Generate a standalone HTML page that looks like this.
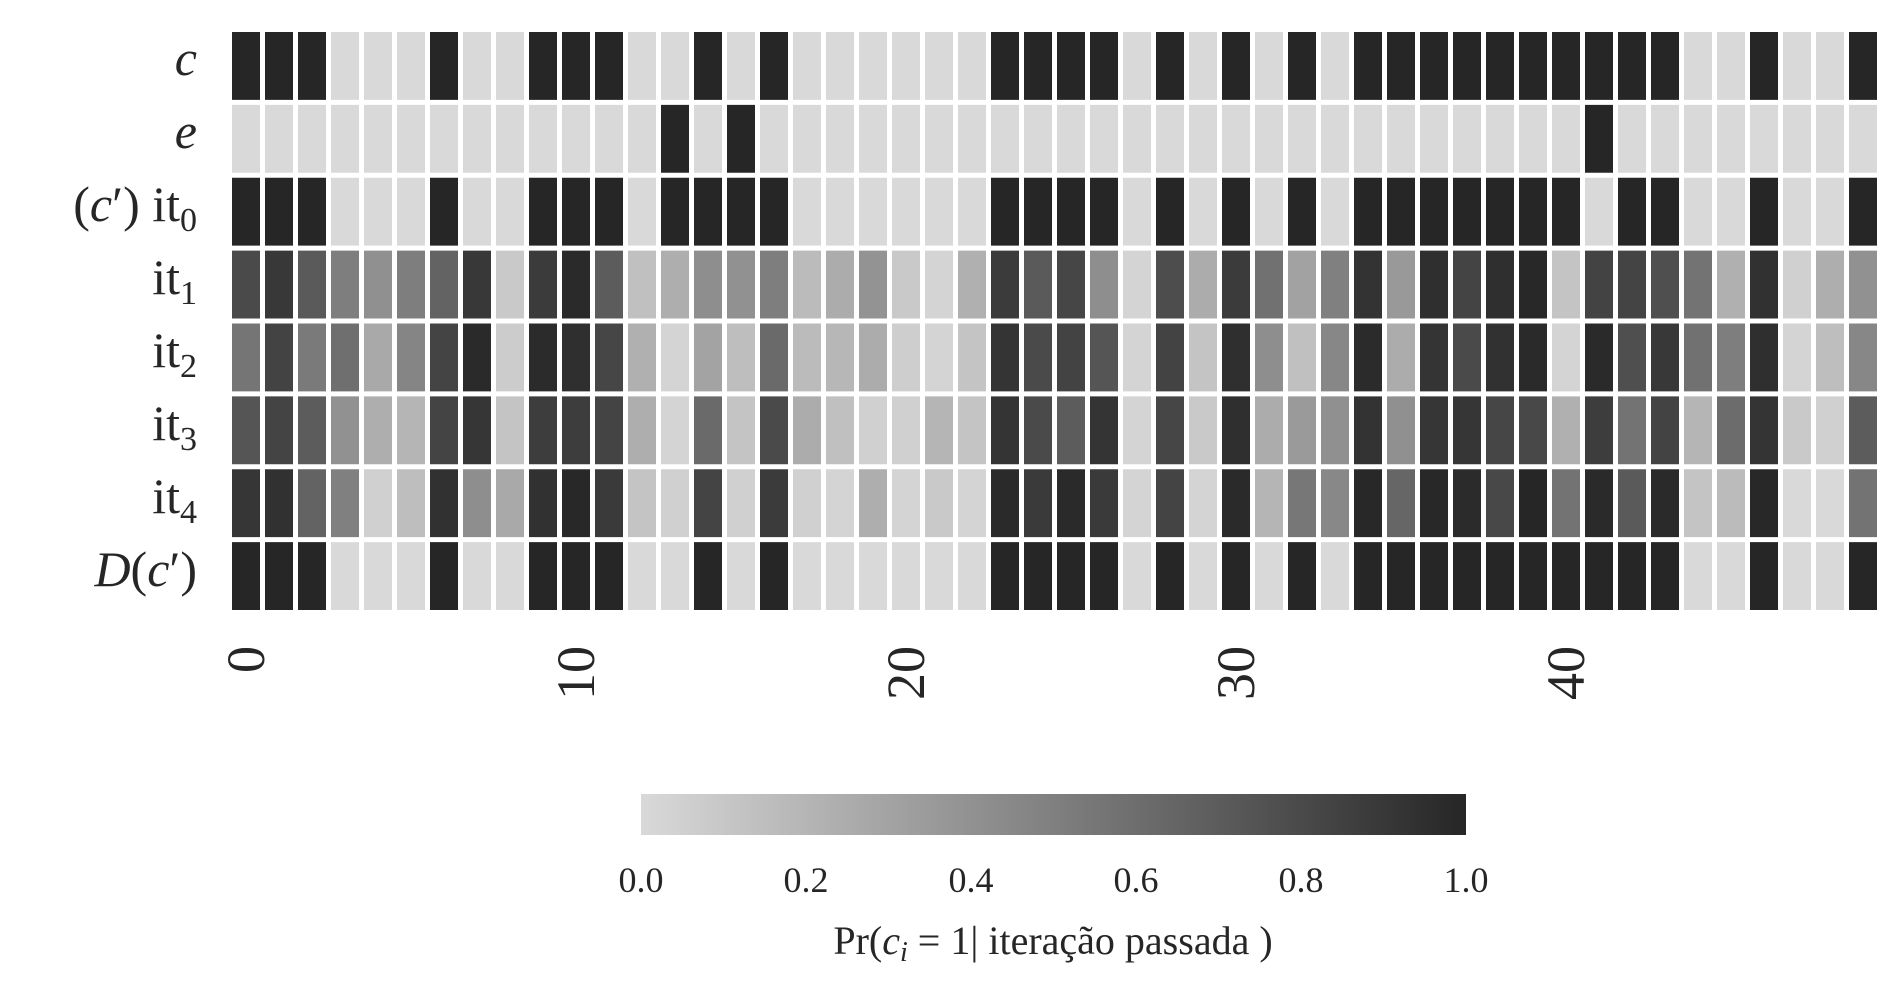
<!DOCTYPE html>
<html><head><meta charset="utf-8"><style>
html,body{margin:0;padding:0;background:#fff;}
svg{display:block;font-family:"Liberation Serif",serif;}
</style></head><body>
<svg id="chart" width="1902" height="996" viewBox="0 0 1902 996" xmlns="http://www.w3.org/2000/svg">
<defs><linearGradient id="cbgrad" x1="0" x2="1" y1="0" y2="0"><stop offset="0" stop-color="#d9d9d9"/><stop offset="1" stop-color="#262626"/></linearGradient></defs>
<g id="cells"></g>
<g id="ylabels" font-size="50" fill="#262626" text-anchor="end">
<text x="197" y="75" font-style="italic">c</text>
<text x="197" y="148" font-style="italic">e</text>
<text x="197" y="221">(<tspan font-style="italic">c</tspan>′) it<tspan font-size="34" dy="10">0</tspan></text>
<text x="197" y="294">it<tspan font-size="34" dy="10">1</tspan></text>
<text x="197" y="367">it<tspan font-size="34" dy="10">2</tspan></text>
<text x="197" y="440">it<tspan font-size="34" dy="10">3</tspan></text>
<text x="197" y="513">it<tspan font-size="34" dy="10">4</tspan></text>
<text x="197" y="586"><tspan font-style="italic">D</tspan>(<tspan font-style="italic">c</tspan>′)</text>
</g>
<g id="xticks"></g>
<rect x="641" y="794" width="825" height="41" fill="url(#cbgrad)"/>
<g id="cbticks"></g>
<text x="1053" y="954" font-size="40" text-anchor="middle" fill="#262626">Pr(<tspan font-style="italic">c<tspan font-size="28" dy="7">i</tspan></tspan><tspan dy="-7"> = 1| iteração passada )</tspan></text>
</svg>
<script>
const rowLabels = ["c","e","it0","it1","it2","it3","it4","D(c')"];
const rowC  = [1,1,1,0,0,0,1,0,0,1,1,1,0,0,1,0,1,0,0,0,0,0,0,1,1,1,1,0,1,0,1,0,1,0,1,1,1,1,1,1,1,1,1,1,0,0,1,0,0,1];
const rowE  = [0,0,0,0,0,0,0,0,0,0,0,0,0,1,0,1,0,0,0,0,0,0,0,0,0,0,0,0,0,0,0,0,0,0,0,0,0,0,0,0,0,1,0,0,0,0,0,0,0,0];
const rowIt0= [1,1,1,0,0,0,1,0,0,1,1,1,0,1,1,1,1,0,0,0,0,0,0,1,1,1,1,0,1,0,1,0,1,0,1,1,1,1,1,1,1,0,1,1,0,0,1,0,0,1];
const rowIt1= [0.8,0.9,0.71,0.51,0.41,0.51,0.66,0.9,0.09,0.88,0.98,0.7,0.14,0.24,0.42,0.4,0.51,0.17,0.25,0.39,0.09,0.03,0.23,0.88,0.71,0.82,0.42,0.03,0.78,0.25,0.88,0.58,0.31,0.5,0.93,0.36,0.95,0.83,0.95,0.99,0.12,0.84,0.83,0.77,0.57,0.23,0.94,0.05,0.24,0.4];
const rowIt2= [0.56,0.84,0.53,0.59,0.27,0.47,0.83,0.98,0.07,0.97,0.95,0.82,0.23,0.03,0.3,0.15,0.62,0.17,0.19,0.25,0.06,0.03,0.12,0.92,0.8,0.84,0.74,0.03,0.84,0.12,0.95,0.42,0.14,0.46,0.97,0.25,0.92,0.8,0.94,0.98,0.03,0.98,0.77,0.9,0.58,0.51,0.95,0.03,0.15,0.46];
const rowIt3= [0.74,0.83,0.7,0.4,0.24,0.2,0.83,0.91,0.12,0.87,0.87,0.83,0.24,0.03,0.62,0.12,0.8,0.25,0.14,0.05,0.05,0.2,0.12,0.92,0.8,0.7,0.92,0.03,0.82,0.09,0.95,0.25,0.35,0.41,0.93,0.41,0.91,0.91,0.82,0.81,0.23,0.87,0.57,0.84,0.2,0.61,0.92,0.09,0.05,0.7];
const rowIt4= [0.91,0.94,0.66,0.5,0.05,0.15,0.94,0.42,0.27,0.94,0.99,0.89,0.12,0.05,0.83,0.05,0.88,0.05,0.03,0.24,0.03,0.09,0.03,0.98,0.89,0.98,0.89,0.03,0.83,0.03,0.98,0.2,0.55,0.45,0.99,0.64,0.99,0.97,0.81,1,0.57,0.98,0.71,0.98,0.12,0.17,0.99,0,0,0.57];
const rowD  = [1,1,1,0,0,0,1,0,0,1,1,1,0,0,1,0,1,0,0,0,0,0,0,1,1,1,1,0,1,0,1,0,1,0,1,1,1,1,1,1,1,1,1,1,0,0,1,0,0,1];
const xTickLabels = ["0","10","20","30","40"];
const cbTickLabels = ["0.0","0.2","0.4","0.6","0.8","1.0"];

const NS = "http://www.w3.org/2000/svg";
const rows = [rowC,rowE,rowIt0,rowIt1,rowIt2,rowIt3,rowIt4,rowD];
const X0 = 229.5, X1 = 1879.5, Y0 = 29.5, Y1 = 612.5, GAP = 5;
const nCols = rowC.length, nRows = rows.length;
const dx = (X1 - X0) / nCols, dy = (Y1 - Y0) / nRows;
function xScale(i){ return X0 + i * dx; }
function yScale(j){ return Y0 + j * dy; }
function color(v){ const g = Math.round(217 - v * (217 - 38)); return "rgb(" + g + "," + g + "," + g + ")"; }
const cells = document.getElementById("cells");
rows.forEach((row, j) => {
  row.forEach((v, i) => {
    const r = document.createElementNS(NS, "rect");
    
    
    r.setAttribute("x", xScale(i) + GAP/2);
    r.setAttribute("y", yScale(j) + GAP/2);
    r.setAttribute("width", dx - GAP);
    r.setAttribute("height", dy - GAP);
    r.setAttribute("fill", color(v));
    cells.appendChild(r);
  });
});
const xt = document.getElementById("xticks");
xTickLabels.forEach(lbl => {
  const i = parseInt(lbl, 10);
  const cx = xScale(i) + dx / 2;
  const t = document.createElementNS(NS, "text");
  
  
  t.setAttribute("transform", "translate(" + (cx + 18) + ",646) rotate(-90)");
  t.setAttribute("text-anchor", "end");
  t.setAttribute("font-size", "54");
  t.setAttribute("fill", "#262626");
  t.textContent = lbl;
  xt.appendChild(t);
});
const cb = document.getElementById("cbticks");
const CB0 = 641, CB1 = 1466;
cbTickLabels.forEach(lbl => {
  const v = parseFloat(lbl);
  const t = document.createElementNS(NS, "text");
  
  
  t.setAttribute("x", CB0 + v * (CB1 - CB0));
  t.setAttribute("y", 892);
  t.setAttribute("text-anchor", "middle");
  t.setAttribute("font-size", "36");
  t.setAttribute("fill", "#262626");
  t.textContent = lbl;
  cb.appendChild(t);
});
</script>
</body></html>
